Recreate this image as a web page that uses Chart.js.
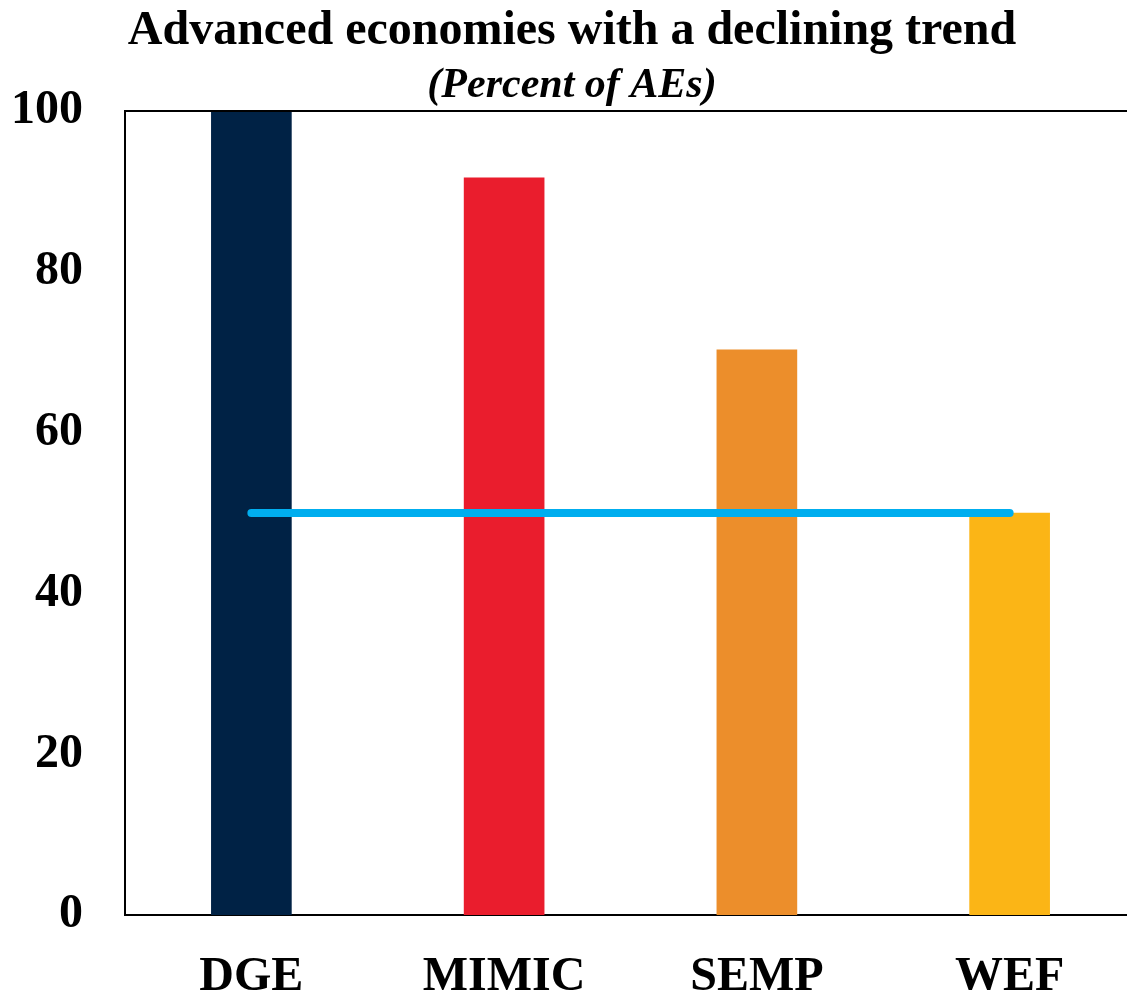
<!DOCTYPE html>
<html>
<head>
<meta charset="utf-8">
<script src="https://cdn.jsdelivr.net/npm/chart.js@4.4.0/dist/chart.umd.min.js"></script>
<style>
  html, body { margin: 0; padding: 0; background: #fff; overflow: hidden; }
  #wrap { width: 1136px; height: 990px; position: relative; }
</style>
</head>
<body>
<div id="wrap"><canvas id="chart"></canvas></div>
<script>
  var categories = ['DGE', 'MIMIC', 'SEMP', 'WEF'];
  var shareDeclining = [100, 91.7, 70.3, 50];
  var averageLine = [50, 50, 50, 50];
  var barColors = ['#002245', '#EA1D2D', '#EC8E2B', '#FBB516'];
  var yTicks = [0, 20, 40, 60, 80, 100];

  // top border of the plot frame
  var frameTop = {
    id: 'frameTop',
    afterDraw: function (chart) {
      var a = chart.chartArea;
      var ctx = chart.ctx;
      ctx.save();
      ctx.strokeStyle = '#000';
      ctx.lineWidth = 2;
      ctx.beginPath();
      ctx.moveTo(a.left, a.top);
      ctx.lineTo(a.right, a.top);
      ctx.stroke();
      ctx.restore();
    }
  };

  var canvas = document.getElementById('chart');
  var chart = new Chart(canvas, {
    data: {
      labels: categories,
      datasets: [{
        type: 'line',
        data: averageLine,
        borderColor: '#00AEEF',
        borderWidth: 8,
        borderCapStyle: 'round',
        pointRadius: 0,
        order: 0
      }, {
        type: 'bar',
        data: shareDeclining,
        backgroundColor: barColors,
        barThickness: 80,
        order: 1
      }]
    },
    options: {
      responsive: true,
      maintainAspectRatio: false,
      animation: false,
      layout: { padding: { left: 8, right: 0, top: 0, bottom: 0 } },
      plugins: {
        legend: { display: false },
        tooltip: { enabled: false },
        title: {
          display: true,
          text: 'Advanced economies with a declining trend',
          color: '#000',
          font: { family: 'Liberation Serif', size: 48, weight: 'bold' },
          padding: { top: 3, bottom: 0 }
        },
        subtitle: {
          display: true,
          text: '(Percent of AEs)',
          color: '#000',
          font: { family: 'Liberation Serif', size: 42, weight: 'bold', style: 'italic' },
          padding: { top: 0, bottom: 0 }
        }
      },
      scales: {
        x: {
          afterFit: function (axis) { axis.height = 75; },
          grid: { display: false, drawTicks: false },
          border: { display: true, color: '#000', width: 2 },
          ticks: {
            color: '#000',
            padding: 34,
            font: { family: 'Liberation Serif', size: 48, weight: 'bold' }
          }
        },
        y: {
          min: 0,
          max: 100,
          afterBuildTicks: function (axis) {
            axis.ticks = yTicks.map(function (v) { return { value: v }; });
          },
          afterFit: function (axis) { axis.width = 117; },
          grid: { display: false, drawTicks: false },
          border: { display: true, color: '#000', width: 2 },
          ticks: {
            color: '#000',
            padding: 42,
            font: { family: 'Liberation Serif', size: 48, weight: 'bold' }
          }
        }
      }
    },
    plugins: [frameTop]
  });
</script>
</body>
</html>
